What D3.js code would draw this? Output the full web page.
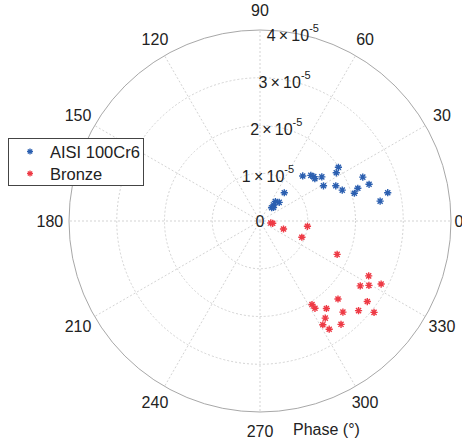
<!DOCTYPE html>
<html>
<head>
<meta charset="utf-8">
<script src="https://cdn.jsdelivr.net/npm/d3@7"></script>
<style>
  body { margin: 0; background: #fff; }
  text { font-family: Arial, "Liberation Sans", sans-serif; fill: #222; }
</style>
</head>
<body>
<svg id="chart" width="462" height="441"></svg>
<script>
// amplitudes are in units of 1e-5, phases in degrees
var steelPhase = [46.5, 41.9, 39.5, 37.6, 35.5, 34.4, 32.3, 29.0, 24.9, 20.6, 23.1,
                  18.6, 18.5, 16.4, 12.5, 9.4, 49.3, 44.1, 51.6, 49.4, 48.7, 45.0];
var steelAmp   = [1.30, 1.43, 1.46, 1.45, 1.59, 1.99, 1.89, 1.52, 1.75, 1.84, 2.34,
                  2.41, 2.16, 2.06, 2.74, 2.55, 0.78, 0.56, 0.52, 0.44, 0.37, 0.40];

var bronzePhase = [349.7, 349.7, 341.2, 353.6, 338.8, 336.6, 333.2, 327.1, 329.4, 332.5, 315.0,
                   323.1, 301.9, 302.2, 307.2, 312.3, 317.7, 321.3, 303.9, 301.2, 302.6, 308.1];
var bronzeAmp   = [0.23, 0.27, 0.52, 1.00, 0.94, 1.76, 2.55, 2.50, 2.65, 2.86, 2.31,
                   2.81, 2.06, 2.16, 2.30, 2.58, 2.79, 3.06, 2.45, 2.54, 2.69, 2.75];

var seriesNames = ["AISI 100Cr6", "Bronze"];
var radialTicks = [0, 1, 2, 3, 4];
var angleTicks = [0, 30, 60, 90, 120, 150, 180, 210, 240, 270, 300, 330];

var svg = d3.select("#chart"),
    width = +svg.attr("width"),
    cx = 260, cy = 221, R = 191;

var r = d3.scaleLinear().domain([0, 4]).range([0, R]);
var color = d3.scaleOrdinal().domain(seriesNames).range(["#2b5fb0", "#ee3a45"]);

function px(a, deg) { return cx + r(a) * Math.cos(deg * Math.PI / 180); }
function py(a, deg) { return cy - r(a) * Math.sin(deg * Math.PI / 180); }

// asterisk marker like matlab's '*'
function star(s) {
  var d = "", k = s * Math.SQRT1_2;
  d += "M" + (-s) + ",0L" + s + ",0";
  d += "M0," + (-s) + "L0," + s;
  d += "M" + (-k) + "," + (-k) + "L" + k + "," + k;
  d += "M" + (-k) + "," + k + "L" + k + "," + (-k);
  return d;
}

var g = svg.append("g");

// grid circles
g.selectAll(".ring")
    .data(radialTicks.filter(function(t) { return t > 0 && t < 4; }))
  .enter().append("circle")
    .attr("cx", cx).attr("cy", cy)
    .attr("r", function(d) { return r(d); })
    .attr("fill", "none")
    .attr("stroke", "#c8c8c8")
    .attr("stroke-dasharray", "2,2")
    .attr("stroke-width", 0.8);

// spokes
g.selectAll(".spoke")
    .data(angleTicks)
  .enter().append("line")
    .attr("x1", cx).attr("y1", cy)
    .attr("x2", function(d) { return px(4, d); })
    .attr("y2", function(d) { return py(4, d); })
    .attr("stroke", "#c8c8c8")
    .attr("stroke-dasharray", "2,2")
    .attr("stroke-width", 0.8);

g.append("circle")
    .attr("cx", cx).attr("cy", cy).attr("r", r(4))
    .attr("fill", "none")
    .attr("stroke", "#a8a8a8")
    .attr("stroke-width", 1);

// angle labels at 1.1*rmax; the 0 gets pushed back to the frame edge as in the original
g.selectAll(".alabel")
    .data(angleTicks)
  .enter().append("text")
    .attr("x", function(d) { return Math.min(px(4.4, d), width - 3); })
    .attr("y", function(d) { return py(4.4, d); })
    .attr("text-anchor", "middle")
    .attr("dominant-baseline", "central")
    .style("font-size", "16px")
    .text(function(d) { return d; });

// radial labels along the 80 degree ray
var rl = g.selectAll(".rlabel")
    .data(radialTicks)
  .enter().append("text")
    .attr("x", function(d) { return d == 0 ? cx : px(d - 0.04, 80); })
    .attr("y", function(d) { return d == 0 ? cy : py(d - 0.04, 80); })
    .attr("text-anchor", "middle")
    .attr("dominant-baseline", "central")
    .style("font-size", "16px");

rl.filter(function(d) { return d == 0; }).text("0");
rl.filter(function(d) { return d > 0; })
    .each(function(d) {
      var t = d3.select(this);
      t.append("tspan").text(d + "\u2009\u00d7\u200910");
      t.append("tspan").attr("dy", -7).style("font-size", "11px").text("-5");
    });

// points
var series = [
  {name: seriesNames[0], phase: steelPhase, amp: steelAmp},
  {name: seriesNames[1], phase: bronzePhase, amp: bronzeAmp}
];

var grp = g.selectAll(".series")
    .data(series)
  .enter().append("g")
    .attr("stroke", function(d) { return color(d.name); })
    .attr("stroke-width", 1.4)
    .attr("fill", "none");

grp.selectAll("path")
    .data(function(d) { return d.amp.map(function(a, i) { return {a: a, p: d.phase[i]}; }); })
  .enter().append("path")
    .attr("d", star(3.6))
    .attr("transform", function(d) {
      return "translate(" + px(d.a, d.p) + "," + py(d.a, d.p) + ")";
    });

// legend
var lg = svg.append("g").attr("transform", "translate(8.5,138.5)");
lg.append("rect")
    .attr("width", 135).attr("height", 47)
    .attr("fill", "#fff")
    .attr("stroke", "#444")
    .attr("stroke-width", 1);

var item = lg.selectAll(".item")
    .data(seriesNames)
  .enter().append("g")
    .attr("transform", function(d, i) { return "translate(0," + (13 + i * 22) + ")"; });

item.append("path")
    .attr("d", star(3))
    .attr("transform", "translate(21.5,0)")
    .attr("stroke", function(d) { return color(d); })
    .attr("stroke-width", 1.3);

item.append("text")
    .attr("x", 41.5)
    .attr("y", 6)
    .style("font-size", "16.5px")
    .text(function(d) { return d; });

svg.append("text")
    .attr("x", 293)
    .attr("y", 435)
    .style("font-size", "16px")
    .text("Phase (\u00b0)");
</script>
</body>
</html>
